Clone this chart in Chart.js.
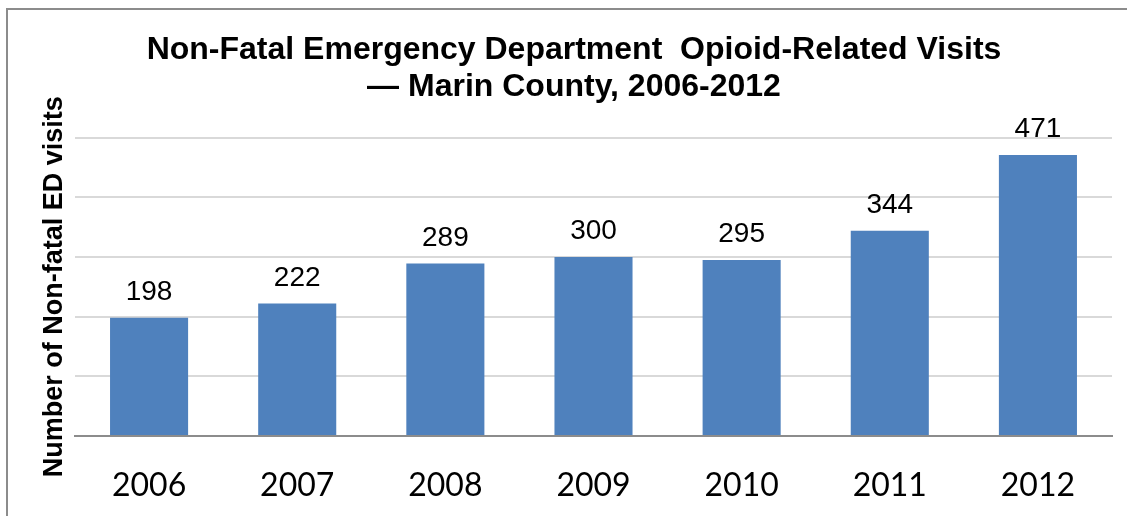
<!DOCTYPE html>
<html>
<head>
<meta charset="utf-8">
<script src="https://cdn.jsdelivr.net/npm/chart.js@4.4.0/dist/chart.umd.min.js"></script>
<style>
  html, body { margin: 0; padding: 0; background: #fff; overflow: hidden; }
  #frame {
    position: absolute; left: 6px; top: 8px;
    width: 1200px; height: 600px;
    border: 2px solid #8c8c8c; box-sizing: border-box;
  }
  #wrap { position: absolute; left: 0; top: 0; width: 1148px; height: 516px; }
</style>
</head>
<body>
<div id="frame"></div>
<div id="wrap"><canvas id="chart"></canvas></div>
<script>
const years = ["2006", "2007", "2008", "2009", "2010", "2011", "2012"];
const visits = [198, 222, 289, 300, 295, 344, 471];
const titleLines = ["Non-Fatal Emergency Department  Opioid-Related Visits", "\u2014 Marin County, 2006-2012"];
const yAxisTitle = "Number of Non-fatal ED visits";

// value labels above each bar
const barLabels = {
    id: "barLabels",
    afterDatasetsDraw(chart) {
        const ctx = chart.ctx;
        const meta = chart.getDatasetMeta(0);
        ctx.save();
        ctx.font = "28px 'Liberation Sans', Arial, sans-serif";
        ctx.fillStyle = "#000";
        ctx.textAlign = "center";
        ctx.textBaseline = "alphabetic";
        meta.data.forEach((bar, i) => {
            ctx.fillText(String(visits[i]), bar.x, bar.y - 18);
        });
        ctx.restore();
    },
};

new Chart(document.getElementById("chart"), {
    type: "bar",
    data: {
        labels: years,
        datasets: [{
            data: visits,
            backgroundColor: "#4f81bd",
            borderWidth: 0,
            barPercentage: 0.527,
            categoryPercentage: 1,
        }],
    },
    options: {
        responsive: true,
        maintainAspectRatio: false,
        animation: false,
        layout: { padding: { left: 36, right: 36, top: 0, bottom: 0 } },
        plugins: {
            legend: { display: false },
            tooltip: { enabled: false },
            title: {
                display: true,
                text: titleLines,
                color: "#000",
                font: { family: "'Liberation Sans', Arial, sans-serif", size: 32, weight: "bold", lineHeight: 1.15 },
                padding: { top: 32, bottom: 32 },
            },
        },
        scales: {
            x: {
                grid: { display: false, drawTicks: false },
                border: { display: true, color: "#8c8c8c", width: 2 },
                ticks: {
                    color: "#000",
                    padding: 30,
                    font: { family: "Lato, 'Open Sans', sans-serif", size: 32 },
                },
                afterFit(scale) { scale.height = 80; },
            },
            y: {
                min: 0,
                max: 500,
                ticks: { display: false, stepSize: 100 },
                grid: { color: "#d9d9d9", lineWidth: 2, drawTicks: false },
                border: { display: false },
                title: {
                    display: true,
                    text: yAxisTitle,
                    color: "#000",
                    font: { family: "'Liberation Sans', Arial, sans-serif", size: 27, weight: "bold", lineHeight: 1.2 },
                    padding: { top: 2, bottom: 0 },
                },
                afterFit(scale) { scale.width = 39; },
            },
        },
    },
    plugins: [barLabels],
});
</script>
</body>
</html>
